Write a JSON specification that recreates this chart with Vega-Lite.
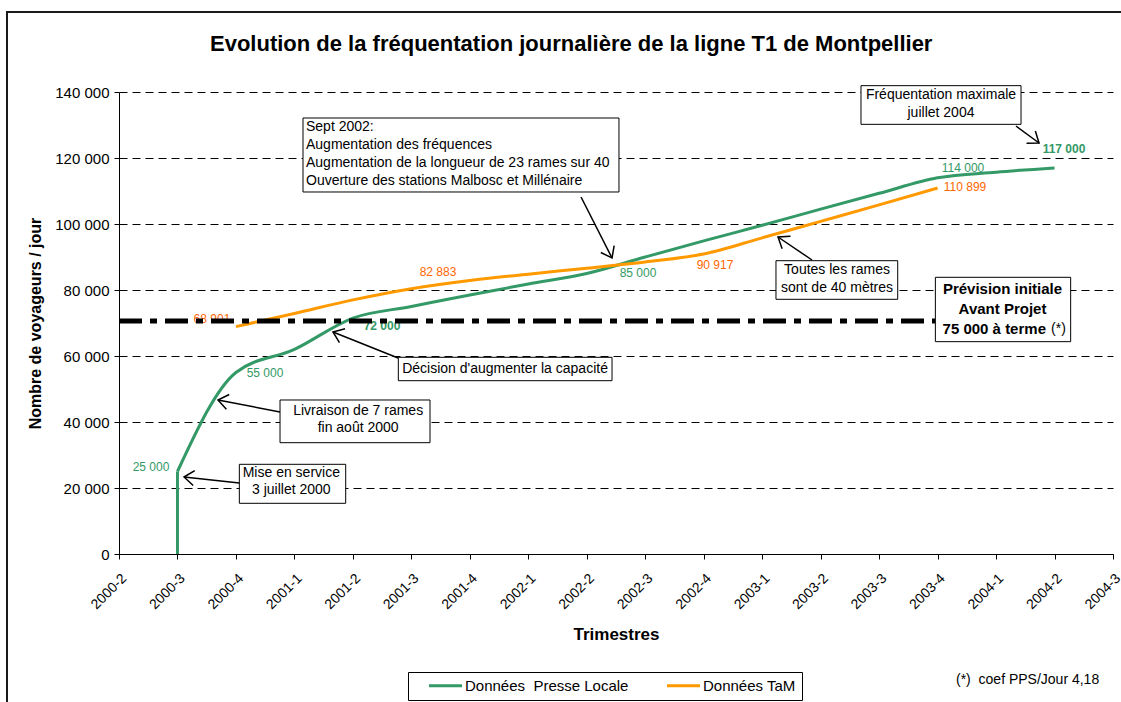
{
  "$schema": "https://vega.github.io/schema/vega-lite/v6.json",
  "width": 994,
  "height": 462,
  "autosize": {"type": "none"},
  "padding": {"left": 119, "top": 92, "right": 8, "bottom": 148},
  "background": "white",
  "config": {
    "view": {"stroke": null},
    "font": "Liberation Sans",
    "axis": {"labelFont": "Liberation Sans", "titleFont": "Liberation Sans", "labelColor": "black", "titleColor": "black", "domainColor": "black", "tickColor": "black", "domainWidth": 1, "tickWidth": 1},
    "text": {"font": "Liberation Sans"},
    "legend": {"labelFont": "Liberation Sans"}
  },
  "title": {
    "text": "Evolution de la fréquentation journalière de la ligne T1 de Montpellier",
    "font": "Liberation Sans", "fontSize": 22, "fontWeight": "bold", "color": "black",
    "anchor": "start", "frame": "group", "dx": 91, "offset": -62, "baseline": "alphabetic"
  },
  "datasets": {
    "series": [
      {"serie": "Données  Presse Locale", "t": 1, "v": 25000},
      {"serie": "Données  Presse Locale", "t": 2, "v": 55000},
      {"serie": "Données  Presse Locale", "t": 3, "v": 62000},
      {"serie": "Données  Presse Locale", "t": 4, "v": 71500},
      {"serie": "Données  Presse Locale", "t": 5, "v": 75000},
      {"serie": "Données  Presse Locale", "t": 6, "v": 78500},
      {"serie": "Données  Presse Locale", "t": 7, "v": 81800},
      {"serie": "Données  Presse Locale", "t": 8, "v": 85000},
      {"serie": "Données  Presse Locale", "t": 9, "v": 90000},
      {"serie": "Données  Presse Locale", "t": 10, "v": 94900},
      {"serie": "Données  Presse Locale", "t": 11, "v": 99600},
      {"serie": "Données  Presse Locale", "t": 12, "v": 104500},
      {"serie": "Données  Presse Locale", "t": 13, "v": 109300},
      {"serie": "Données  Presse Locale", "t": 14, "v": 114000},
      {"serie": "Données  Presse Locale", "t": 15, "v": 115700},
      {"serie": "Données  Presse Locale", "t": 16, "v": 117000},
      {"serie": "Données TaM", "t": 2, "v": 68901},
      {"serie": "Données TaM", "t": 3, "v": 72900},
      {"serie": "Données TaM", "t": 4, "v": 77000},
      {"serie": "Données TaM", "t": 5, "v": 80400},
      {"serie": "Données TaM", "t": 6, "v": 82883},
      {"serie": "Données TaM", "t": 7, "v": 84800},
      {"serie": "Données TaM", "t": 8, "v": 86600},
      {"serie": "Données TaM", "t": 9, "v": 88500},
      {"serie": "Données TaM", "t": 10, "v": 90917},
      {"serie": "Données TaM", "t": 11, "v": 95800},
      {"serie": "Données TaM", "t": 12, "v": 100800},
      {"serie": "Données TaM", "t": 13, "v": 105800},
      {"serie": "Données TaM", "t": 14, "v": 110899}
    ],
    "debut": [{"t": 1, "v": 0, "v2": 25000}],
    "etiquettes": [
      {"serie": "presse", "t": 0.547, "v": 26364, "txt": "25 000"},
      {"serie": "presse", "t": 2.497, "v": 54848, "txt": "55 000"},
      {"serie": "presse", "t": 4.498, "v": 69091, "txt": "72 000"},
      {"serie": "presse", "t": 8.876, "v": 85152, "txt": "85 000"},
      {"serie": "presse", "t": 14.435, "v": 116970, "txt": "114 000"},
      {"serie": "presse", "t": 16.162, "v": 122727, "txt": "117 000"},
      {"serie": "tam", "t": 1.59, "v": 71212, "txt": "68 901"},
      {"serie": "tam", "t": 5.456, "v": 85455, "txt": "82 883"},
      {"serie": "tam", "t": 10.193, "v": 87576, "txt": "90 917"},
      {"serie": "tam", "t": 14.469, "v": 111212, "txt": "110 899"}
    ],
    "prevision": [{"t": 0, "t2": 13.96, "v": 70600}],
    "cadre": [{"t": -1.9155, "t2": 19, "v": 164242, "v2": -60000}],
    "boites": [
      {"t": 3.147, "t2": 8.551, "v": 132121, "v2": 109697},
      {"t": 12.69, "t2": 15.427, "v": 141919, "v2": 130202},
      {"t": 11.236, "t2": 13.318, "v": 88879, "v2": 77182},
      {"t": 13.962, "t2": 16.276, "v": 83848, "v2": 64343},
      {"t": 4.777, "t2": 8.432, "v": 59606, "v2": 52515},
      {"t": 2.754, "t2": 5.319, "v": 46667, "v2": 33727},
      {"t": 2.058, "t2": 3.877, "v": 27182, "v2": 15364}
    ],
    "textesGauche": [
      {"t": 3.198, "v": 129394, "txt": "Sept 2002:"},
      {"t": 3.198, "v": 123939, "txt": "Augmentation des fréquences"},
      {"t": 3.198, "v": 118485, "txt": "Augmentation de la longueur de 23 rames sur 40"},
      {"t": 3.198, "v": 113030, "txt": "Ouverture des stations Malbosc et Millénaire"},
      {"t": 15.94, "v": 68182, "txt": "(*)"},
      {"t": 14.315, "v": -38182, "txt": "(*) \u00a0coef PPS/Jour 4,18"}
    ],
    "textesCentre": [
      {"t": 14.058, "v": 139091, "txt": "Fréquentation maximale"},
      {"t": 14.058, "v": 133636, "txt": "juillet 2004"},
      {"t": 12.28, "v": 86061, "txt": "Toutes les rames"},
      {"t": 12.28, "v": 80606, "txt": "sont de 40 mètres"},
      {"t": 6.602, "v": 56061, "txt": "Décision d'augmenter la capacité"},
      {"t": 4.09, "v": 43333, "txt": "Livraison de 7 rames"},
      {"t": 4.09, "v": 38182, "txt": "fin août 2000"},
      {"t": 2.947, "v": 24636, "txt": "Mise en service"},
      {"t": 2.947, "v": 19394, "txt": "3 juillet 2000"}
    ],
    "textesGras": [
      {"t": 15.11, "v": 80303, "txt": "Prévision initiale"},
      {"t": 15.11, "v": 74242, "txt": "Avant Projet"}
    ],
    "textesGrasDroite": [
      {"t": 15.854, "v": 68182, "txt": "75 000 à terme"}
    ],
    "fleches": [
      {"t": 8.432, "v": 89697, "t2": 7.902, "v2": 108182, "ang": 63},
      {"t": 15.735, "v": 124545, "t2": 15.341, "v2": 129697, "ang": 36},
      {"t": 11.271, "v": 96061, "t2": 11.852, "v2": 89091, "ang": 214},
      {"t": 3.66, "v": 67273, "t2": 4.772, "v2": 59394, "ang": 202},
      {"t": 1.693, "v": 46667, "t2": 2.754, "v2": 43030, "ang": 191},
      {"t": 1.112, "v": 23333, "t2": 2.058, "v2": 21515, "ang": 186}
    ]
  },
  "encoding": {
    "x": {
      "field": "t", "type": "quantitative",
      "scale": {"domain": [0, 17], "nice": false, "zero": false},
      "axis": {
        "values": [0, 1, 2, 3, 4, 5, 6, 7, 8, 9, 10, 11, 12, 13, 14, 15, 16, 17],
        "labelExpr": "['2000-2','2000-3','2000-4','2001-1','2001-2','2001-3','2001-4','2002-1','2002-2','2002-3','2002-4','2003-1','2003-2','2003-3','2003-4','2004-1','2004-2','2004-3'][datum.value]",
        "labelAngle": -45, "labelFontSize": 14, "tickSize": 5, "labelPadding": 12, "labelDx": -10, "grid": false, "labelFlush": false, "labelOverlap": false,
        "title": "Trimestres", "titleFontSize": 17, "titleFontWeight": "bold", "titleY": 80, "titleBaseline": "middle"
      }
    },
    "y": {
      "field": "v", "type": "quantitative",
      "scale": {"domain": [0, 140000], "nice": false, "zero": true},
      "axis": {
        "values": [0, 20000, 40000, 60000, 80000, 100000, 120000, 140000],
        "labelExpr": "replace(format(datum.value, ','), ',', ' ')",
        "labelFontSize": 15, "tickSize": 5, "labelPadding": 5,
        "grid": true, "gridDash": [8, 5], "gridColor": "black", "gridWidth": 1,
        "title": "Nombre de voyageurs / jour", "titleFontSize": 16, "titleFontWeight": "bold",
        "titleX": -84, "titleY": 231, "titleAngle": -90, "titleAlign": "center", "titleBaseline": "middle"
      }
    }
  },
  "layer": [
    {
      "data": {"name": "cadre"},
      "mark": {"type": "rect", "filled": false, "color": "#1a1a1a", "strokeWidth": 2},
      "encoding": {"x2": {"field": "t2"}, "y2": {"field": "v2"}}
    },
    {
      "data": {"name": "debut"},
      "mark": {"type": "rule", "color": "#339966", "strokeWidth": 3},
      "encoding": {"y2": {"field": "v2"}}
    },
    {
      "data": {"name": "series"},
      "mark": {"type": "line", "interpolate": "monotone", "strokeWidth": 3},
      "encoding": {
        "color": {
          "field": "serie", "type": "nominal",
          "scale": {"domain": ["Données  Presse Locale", "Données TaM"], "range": ["#339966", "#FF9900"]},
          "legend": {
            "orient": "none", "legendX": 289, "legendY": 580, "direction": "horizontal", "title": null,
            "strokeColor": "black", "fillColor": "white", "padding": 6,
            "symbolType": "M1.36,0L7.36,0", "symbolSize": 121, "symbolStrokeWidth": 3,
            "labelFontSize": 15, "labelColor": "black", "labelOffset": 36, "labelLimit": 400, "columnPadding": 23,
            "labelExpr": "datum.label == 'Données  Presse Locale' ? 'Données\u00a0 Presse Locale' : datum.label"
          }
        }
      }
    },
    {
      "data": {"name": "etiquettes"},
      "transform": [{"filter": "datum.serie == 'presse' && datum.txt != '72 000' && datum.txt != '117 000'"}],
      "mark": {"type": "text", "color": "#339966", "fontSize": 12, "align": "center", "baseline": "middle"},
      "encoding": {"text": {"field": "txt"}}
    },
    {
      "data": {"name": "etiquettes"},
      "transform": [{"filter": "datum.serie == 'presse' && (datum.txt == '72 000' || datum.txt == '117 000')"}],
      "mark": {"type": "text", "color": "#339966", "fontSize": 12, "fontWeight": "bold", "align": "center", "baseline": "middle"},
      "encoding": {"text": {"field": "txt"}}
    },
    {
      "data": {"name": "etiquettes"},
      "transform": [{"filter": "datum.serie == 'tam'"}],
      "mark": {"type": "text", "color": "#FF6600", "fontSize": 12, "align": "center", "baseline": "middle"},
      "encoding": {"text": {"field": "txt"}}
    },
    {
      "data": {"name": "prevision"},
      "mark": {"type": "rule", "color": "black", "strokeWidth": 5, "strokeDash": [23, 8, 7, 8]},
      "encoding": {"x2": {"field": "t2"}}
    },
    {
      "data": {"name": "boites"},
      "mark": {"type": "rect", "fill": "white", "stroke": "black", "strokeWidth": 1},
      "encoding": {"x2": {"field": "t2"}, "y2": {"field": "v2"}}
    },
    {
      "data": {"name": "textesGauche"},
      "mark": {"type": "text", "color": "black", "fontSize": 14, "align": "left", "baseline": "middle"},
      "encoding": {"text": {"field": "txt"}}
    },
    {
      "data": {"name": "textesCentre"},
      "mark": {"type": "text", "color": "black", "fontSize": 14, "align": "center", "baseline": "middle"},
      "encoding": {"text": {"field": "txt"}}
    },
    {
      "data": {"name": "textesGras"},
      "mark": {"type": "text", "color": "black", "fontSize": 15, "fontWeight": "bold", "align": "center", "baseline": "middle"},
      "encoding": {"text": {"field": "txt"}}
    },
    {
      "data": {"name": "textesGrasDroite"},
      "mark": {"type": "text", "color": "black", "fontSize": 15, "fontWeight": "bold", "align": "right", "baseline": "middle"},
      "encoding": {"text": {"field": "txt"}}
    },
    {
      "data": {"name": "fleches"},
      "mark": {"type": "rule", "color": "black", "strokeWidth": 1.5},
      "encoding": {"x2": {"field": "t2"}, "y2": {"field": "v2"}}
    },
    {
      "data": {"name": "fleches"},
      "mark": {"type": "point", "shape": "M-1,-0.75L0,0L-1,0.75", "filled": false, "color": "black", "strokeWidth": 1.5, "size": 400, "opacity": 1},
      "encoding": {"angle": {"field": "ang", "type": "quantitative", "scale": null}}
    }
  ]
}
